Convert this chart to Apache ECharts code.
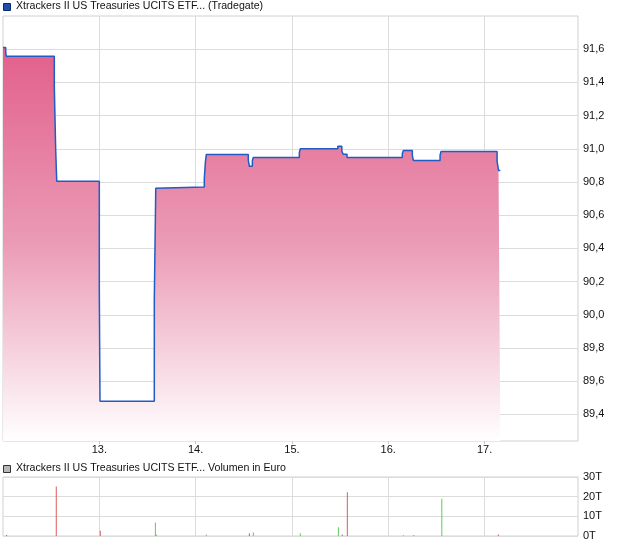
<!DOCTYPE html>
<html>
<head>
<meta charset="utf-8">
<script src="https://cdn.jsdelivr.net/npm/echarts@6/dist/echarts.min.js"></script>
<style>
html,body{margin:0;padding:0;background:#fff;}
#chart{width:620px;height:546px;}
</style>
</head>
<body>
<div id="chart"></div>
<script>
// Price series (x = day of month, fractional)
var priceDays = [12.0, 12.028, 12.034, 12.533, 12.547, 12.558, 13.0, 13.007, 13.571, 13.586, 13.592, 14.090, 14.101, 14.111, 14.547, 14.558, 14.589, 14.599, 15.077, 15.087, 15.476, 15.518, 15.531, 15.572, 16.146, 16.157, 16.250, 16.261, 16.538, 16.548, 17.130, 17.145, 17.164];
var priceValues = [91.61, 91.584, 91.558, 91.37, 90.996, 90.805, 90.148, 89.48, 90.09, 90.763, 90.77, 90.821, 90.917, 90.966, 90.93, 90.895, 90.93, 90.948, 90.978, 91.0, 91.016, 90.986, 90.967, 90.948, 90.972, 90.99, 90.961, 90.93, 90.961, 90.984, 90.925, 90.87, 90.87];

// Volume (thousand euro)
var volRedDays = [12.037, 12.553, 13.010, 14.558, 15.523, 15.575, 16.265, 17.143];
var volRedValues = [0.5, 25.2, 2.7, 1.4, 0.7, 22.2, 0.4, 0.8];
var volGreenDays = [13.582, 13.592, 14.111, 14.599, 15.087, 15.482, 16.157, 16.556];
var volGreenValues = [6.9, 0.8, 0.8, 1.8, 1.4, 4.4, 0.4, 19.0];

// Tick labels
var dayTicks = [13, 14, 15, 16, 17];
var priceTicks = [89.4, 89.6, 89.8, 90.0, 90.2, 90.4, 90.6, 90.8, 91.0, 91.2, 91.4, 91.6];
var volTicks = [0, 10, 20, 30];

var titleMain = 'Xtrackers II US Treasuries UCITS ETF... (Tradegate)';
var titleVol = 'Xtrackers II US Treasuries UCITS ETF... Volumen in Euro';

function zip(a, b) { return a.map(function (v, i) { return [v, b[i]]; }); }

var FONT = '"Liberation Sans", Arial, sans-serif';
var gridColor = '#dcdcdc';
var X_MIN = 12, X_MAX = 17.97;

var chart = echarts.init(document.getElementById('chart'), null, { renderer: 'canvas' });
chart.setOption({
  animation: false,
  backgroundColor: '#fff',
  textStyle: { fontFamily: FONT },
  grid: [
    { left: 3, right: 42, top: 16, height: 425, show: true, borderColor: '#d0d0d0', borderWidth: 1, containLabel: false },
    { left: 3, right: 42, top: 477, height: 59, show: true, borderColor: '#d0d0d0', borderWidth: 1, containLabel: false }
  ],
  graphic: [
    { type: 'rect', left: 3, top: 3, shape: { width: 7, height: 7 }, style: { fill: '#1d4fb3', stroke: '#0e2a66', lineWidth: 1 } },
    { type: 'text', left: 16, top: 1, style: { text: titleMain, font: '10.6px ' + FONT, fill: '#111' } },
    { type: 'rect', left: 3, top: 465, shape: { width: 7, height: 7 }, style: { fill: '#b8b8b8', stroke: '#333', lineWidth: 1 } },
    { type: 'text', left: 16, top: 463, style: { text: titleVol, font: '10.6px ' + FONT, fill: '#111' } }
  ],
  xAxis: [
    {
      type: 'value', gridIndex: 0, min: X_MIN, max: X_MAX,
      axisLine: { show: false },
      axisTick: { show: true, length: 3, lineStyle: { color: '#c8c8c8' }, customValues: dayTicks },
      axisLabel: { customValues: dayTicks, formatter: function (v) { return v + '.'; }, color: '#111', fontSize: 11, fontFamily: FONT, margin: 3 },
      splitLine: { show: true, lineStyle: { color: gridColor, width: 1 } }
    },
    {
      type: 'value', gridIndex: 1, min: X_MIN, max: X_MAX,
      axisLine: { show: false },
      axisTick: { show: false, customValues: dayTicks },
      axisLabel: { show: false, customValues: dayTicks },
      splitLine: { show: true, lineStyle: { color: gridColor, width: 1 } }
    }
  ],
  yAxis: [
    {
      type: 'value', gridIndex: 0, position: 'right', min: 89.24, max: 91.8, scale: true,
      axisLine: { show: false },
      axisTick: { show: false, customValues: priceTicks },
      axisLabel: { customValues: priceTicks, formatter: function (v) { return v.toFixed(1).replace('.', ','); }, color: '#111', fontSize: 11, fontFamily: FONT, margin: 5 },
      splitLine: { show: true, lineStyle: { color: gridColor, width: 1 } }
    },
    {
      type: 'value', gridIndex: 1, position: 'right', min: 0, max: 30, interval: 10,
      axisLine: { show: false },
      axisTick: { show: false },
      axisLabel: { formatter: function (v) { return v + 'T'; }, color: '#111', fontSize: 11, fontFamily: FONT, margin: 5 },
      splitLine: { show: true, lineStyle: { color: gridColor, width: 1 } }
    }
  ],
  series: [
    {
      type: 'line', xAxisIndex: 0, yAxisIndex: 0, step: 'end', symbol: 'none',
      data: zip(priceDays, priceValues),
      lineStyle: { color: '#1f5cc4', width: 1.5 },
      areaStyle: {
        opacity: 1,
        color: new echarts.graphic.LinearGradient(0, 0, 0, 1, [
          { offset: 0, color: '#e2608b' },
          { offset: 0.5, color: '#eb9bb6' },
          { offset: 1, color: '#ffffff' }
        ])
      },
      z: 3
    },
    {
      type: 'bar', xAxisIndex: 1, yAxisIndex: 1, barWidth: 1, barGap: '-100%',
      data: zip(volRedDays, volRedValues),
      itemStyle: { color: '#dc5a5a' }
    },
    {
      type: 'bar', xAxisIndex: 1, yAxisIndex: 1, barWidth: 1, barGap: '-100%',
      data: zip(volGreenDays, volGreenValues),
      itemStyle: { color: '#5ccc5c' }
    }
  ]
});
</script>
</body>
</html>
